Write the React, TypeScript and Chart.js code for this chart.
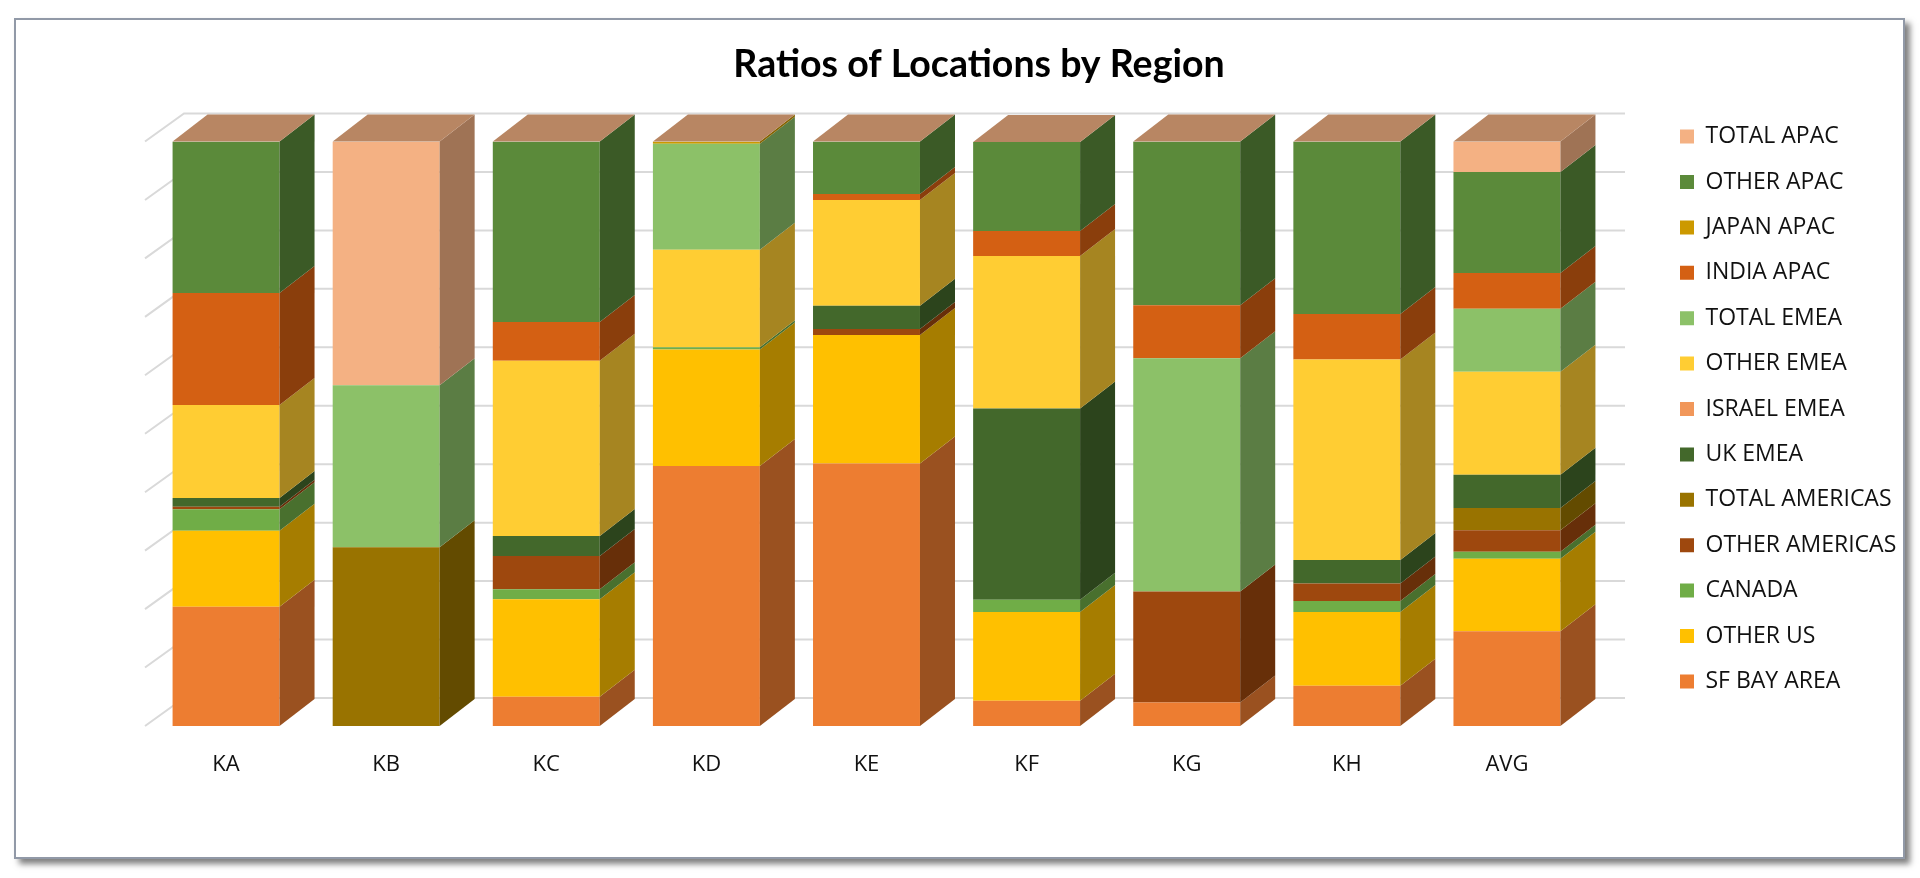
import { useEffect, useRef } from "react";
import { Chart, registerables } from "chart.js";
Chart.register(...registerables);

const categories = ["KA", "KB", "KC", "KD", "KE", "KF", "KG", "KH", "AVG"];

// stacked from the bottom up, values in percent
const sfBayArea = [20.4, 0, 5.0, 44.5, 44.9, 4.3, 4.0, 6.9, 16.2];
const otherUs = [13.0, 0, 16.7, 19.9, 22.0, 15.2, 0, 12.6, 12.4];
const canada = [3.7, 0, 1.7, 0.4, 0, 2.1, 0, 1.9, 1.2];
const otherAmericas = [0.4, 0, 5.7, 0, 1.0, 0, 19.0, 3.0, 3.7];
const totalAmericas = [0, 30.6, 0, 0, 0, 0, 0, 0, 3.8];
const ukEmea = [1.5, 0, 3.4, 0, 4.0, 32.7, 0, 4.0, 5.7];
const israelEmea = [0, 0, 0, 0, 0, 0, 0, 0, 0];
const otherEmea = [15.9, 0, 30.0, 16.7, 18.1, 26.1, 0, 34.3, 17.6];
const totalEmea = [0, 27.7, 0, 18.1, 0, 0, 39.9, 0, 10.8];
const indiaApac = [19.2, 0, 6.6, 0, 1.0, 4.3, 9.1, 7.8, 6.1];
const japanApac = [0, 0, 0, 0.4, 0, 0, 0, 0, 0];
const otherApac = [25.9, 0, 30.9, 0, 9.0, 15.2, 28.0, 29.5, 17.3];
const totalApac = [0, 41.7, 0, 0, 0, 0, 0, 0, 5.2];

const series = [
  { label: "SF BAY AREA", data: sfBayArea, color: "#ED7D31" },
  { label: "OTHER US", data: otherUs, color: "#FFC000" },
  { label: "CANADA", data: canada, color: "#70AD47" },
  { label: "OTHER AMERICAS", data: otherAmericas, color: "#9E480E" },
  { label: "TOTAL AMERICAS", data: totalAmericas, color: "#997300" },
  { label: "UK EMEA", data: ukEmea, color: "#43682B" },
  { label: "ISRAEL EMEA", data: israelEmea, color: "#F1975A" },
  { label: "OTHER EMEA", data: otherEmea, color: "#FFCD33" },
  { label: "TOTAL EMEA", data: totalEmea, color: "#8CC168" },
  { label: "INDIA APAC", data: indiaApac, color: "#D46013" },
  { label: "JAPAN APAC", data: japanApac, color: "#CC9900" },
  { label: "OTHER APAC", data: otherApac, color: "#5B8A3A" },
  { label: "TOTAL APAC", data: totalApac, color: "#F4B183" },
];

// depth of the fake 3d look
const BAR_DX = 35;
const BAR_DY = 27;
const FLOOR_DX = 38;
const FLOOR_DY = 28;

// canvas is a bit wider than the frame; it is transparent so the border still shows
const CANVAS_W = 1900;
const CANVAS_H = 837;
const TITLE_CX = 963;
const LEGEND_LEFT = 1641.6;
const PLOT_LEFT = 130;
const PLOT_RIGHT = 1571;
const LEGEND_FONT = 23;
const LEGEND_PAD = 22.4;
const LEGEND_BOX = 14;

const shade = (hex: string, f: number) => {
  const n = parseInt(hex.slice(1), 16);
  const r = Math.round(((n >> 16) & 255) * f);
  const g = Math.round(((n >> 8) & 255) * f);
  const b = Math.round((n & 255) * f);
  return `rgb(${r},${g},${b})`;
};

const poly = (ctx: CanvasRenderingContext2D, pts: number[][], fill: string) => {
  ctx.beginPath();
  ctx.moveTo(pts[0][0], pts[0][1]);
  for (let i = 1; i < pts.length; i++) ctx.lineTo(pts[i][0], pts[i][1]);
  ctx.closePath();
  ctx.fillStyle = fill;
  ctx.fill();
};

const wallGrid = {
  id: "wallGrid",
  beforeDatasetsDraw(chart: any) {
    const { ctx, chartArea, scales } = chart;
    const y = scales.y;
    ctx.save();
    ctx.strokeStyle = "#d9d9d9";
    ctx.lineWidth = 2;
    y.ticks.forEach((t: any) => {
      const py = y.getPixelForValue(t.value);
      ctx.beginPath();
      ctx.moveTo(chartArea.left - 1, py);
      ctx.lineTo(chartArea.left + FLOOR_DX, py - FLOOR_DY);
      ctx.lineTo(chartArea.right + FLOOR_DX, py - FLOOR_DY);
      ctx.stroke();
    });
    ctx.restore();
  },
};

const barFaces = {
  id: "barFaces",
  afterDatasetsDraw(chart: any) {
    const { ctx } = chart;
    const metas = chart.getSortedVisibleDatasetMetas();
    ctx.save();
    metas.forEach((meta: any) => {
      const color = chart.data.datasets[meta.index].backgroundColor;
      meta.data.forEach((el: any) => {
        const { x, y, base, width } = el.getProps(["x", "y", "base", "width"], true);
        const right = x + width / 2;
        const top = Math.min(y, base);
        const bottom = Math.max(y, base);
        if (bottom - top < 0.01) return;
        poly(
          ctx,
          [
            [right, top],
            [right + BAR_DX, top - BAR_DY],
            [right + BAR_DX, bottom - BAR_DY],
            [right, bottom],
          ],
          shade(color, 0.65)
        );
      });
    });
    const last = metas[metas.length - 1];
    const topColor = chart.data.datasets[last.index].backgroundColor;
    last.data.forEach((el: any) => {
      const { x, y, width } = el.getProps(["x", "y", "width"], true);
      const l = x - width / 2;
      const r = x + width / 2;
      poly(
        ctx,
        [
          [l, y],
          [l + BAR_DX, y - BAR_DY],
          [r + BAR_DX, y - BAR_DY],
          [r, y],
        ],
        shade(topColor, 0.755)
      );
    });
    ctx.restore();
  },
};

const RatiosChart = () => {
  const chartRef = useRef<HTMLCanvasElement | null>(null);

  useEffect(() => {
    if (!chartRef.current) return;
    const ctx = chartRef.current.getContext("2d");
    if (!ctx) return;

    // legend width as chart.js works it out (vertical legends get +10)
    ctx.save();
    ctx.font = `${LEGEND_FONT}px Open Sans`;
    const textW = Math.max(...series.map((s) => ctx.measureText(s.label).width));
    ctx.restore();
    const legendW = LEGEND_PAD + LEGEND_BOX + LEGEND_FONT / 2 + textW + 10;
    const padRight = Math.max(0, CANVAS_W - LEGEND_LEFT - legendW);
    const padLeft = Math.max(0, 2 * TITLE_CX - CANVAS_W + padRight);
    const legendLeft = CANVAS_W - padRight - legendW;

    const chart = new Chart(ctx, {
      type: "bar",
      data: {
        labels: categories,
        datasets: series.map((s) => ({
          label: s.label,
          data: s.data,
          backgroundColor: s.color,
          borderWidth: 0,
          barPercentage: 0.668,
          categoryPercentage: 1,
        })),
      },
      options: {
        animation: false,
        responsive: true,
        maintainAspectRatio: false,
        events: [],
        layout: { padding: { left: padLeft, right: padRight, top: 0, bottom: 59 } },
        scales: {
          x: {
            stacked: true,
            grid: { display: false, drawTicks: false },
            border: { display: false },
            ticks: {
              color: "#111",
              padding: 26,
              font: { family: "Open Sans", size: 22 },
            },
            afterFit: (s: any) => {
              s.height = 72;
            },
          },
          y: {
            stacked: true,
            min: 0,
            max: 100,
            ticks: { display: false, stepSize: 10 },
            grid: { display: false },
            border: { display: false },
            afterFit: (s: any) => {
              s.width = Math.max(0, PLOT_LEFT - padLeft);
            },
          },
          y2: {
            position: "right",
            min: 0,
            max: 100,
            ticks: { display: false },
            grid: { display: false },
            border: { display: false },
            afterFit: (s: any) => {
              s.width = Math.max(0, legendLeft - PLOT_RIGHT);
            },
          },
        },
        plugins: {
          title: {
            display: true,
            text: "Ratios of Locations by Region",
            color: "#000",
            font: { family: "Lato", weight: "bold", size: 37.5 },
            padding: { top: 22.5, bottom: 54 },
          },
          legend: {
            position: "right",
            reverse: true,
            labels: {
              boxWidth: LEGEND_BOX,
              boxHeight: LEGEND_BOX,
              padding: LEGEND_PAD,
              color: "#111",
              font: { family: "Open Sans", size: LEGEND_FONT },
            },
          },
          tooltip: { enabled: false },
        },
      },
      plugins: [wallGrid, barFaces],
    });
    return () => chart.destroy();
  }, []);

  return (
    <div
      style={{
        position: "absolute",
        left: 14,
        top: 18,
        width: 1891,
        height: 841,
        boxSizing: "border-box",
        border: "2px solid #9199a7",
        background: "#fff",
        boxShadow: "5px 5px 6px rgba(0,0,0,0.5)",
      }}
    >
      <div style={{ position: "relative", width: CANVAS_W, height: CANVAS_H }}>
        <canvas ref={chartRef}></canvas>
      </div>
    </div>
  );
};

export default function App() {
  return <RatiosChart />;
}
